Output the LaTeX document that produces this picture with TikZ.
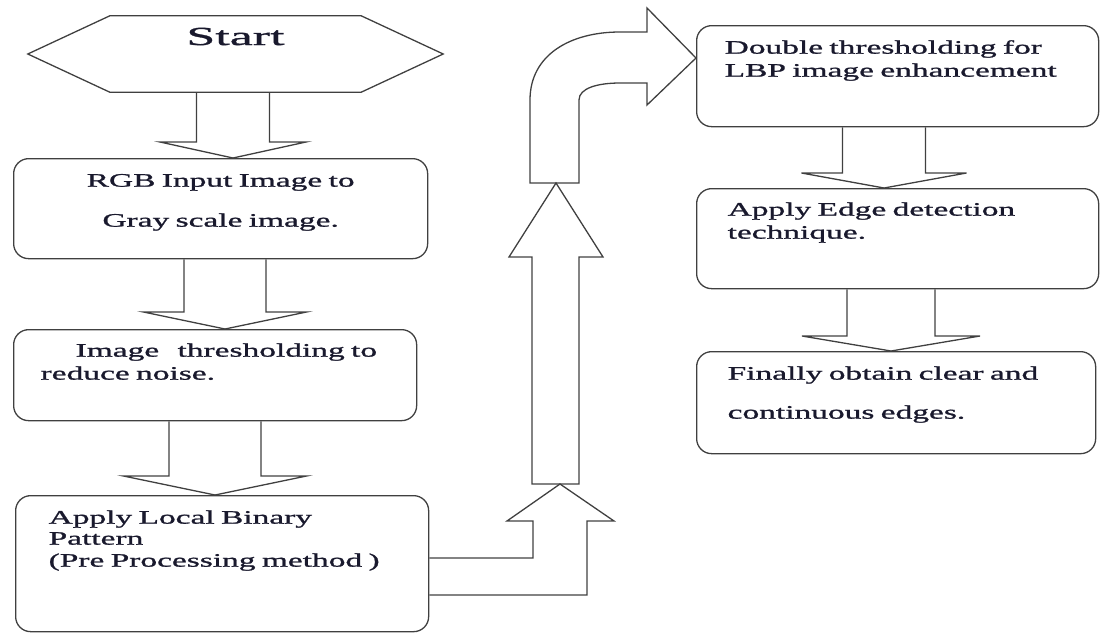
\documentclass[tikz,border=0pt]{standalone}
\usepackage{fontspec}
\setmainfont[FakeStretch=1.76,FakeBold=1.2]{Liberation Serif}
\newfontfamily\startfont[FakeStretch=2.0,FakeBold=1.2]{Liberation Serif}
\usetikzlibrary{calc}

\definecolor{linegray}{RGB}{64,64,64}
\definecolor{textnavy}{RGB}{25,25,45}

\tikzset{
  stepbox/.style={draw=linegray, line width=1.3pt, rounded corners=15pt, anchor=north west,
    inner ysep=0pt, align=left, text=textnavy, font=\fontsize{19}{23}\selectfont},
  startbox/.style={minimum width=415pt, minimum height=76pt, inner sep=0pt, text=textnavy,
    font=\startfont\fontsize{26}{30}\selectfont},
  blockarrow/.style={draw=linegray, line width=1.3pt, line join=miter},
}

% block arrow: from node, to node, centre x, shaft half width, head half width, head length
\newcommand{\downblock}[6]{%
  \draw[blockarrow] let \p1=(#3,0 |- #1.south), \p2=(#3,0 |- #2.north) in
    (\x1-#4pt,\y1) -- (\x1-#4pt,\y2+#6pt) -- (\x1-#5pt,\y2+#6pt) -- (\p2)
    -- (\x1+#5pt,\y2+#6pt) -- (\x1+#4pt,\y2+#6pt) -- (\x1+#4pt,\y1);}

\begin{document}
\begin{tikzpicture}[x=1pt,y=-1pt]
  \useasboundingbox (0,0) rectangle (1100,632);

  \node[startbox, text height=17pt, text depth=35pt] (start) at (235.5,54) {Start};
  \draw[blockarrow] (start.west) -- ($(start.north west)+(82,0)$) -- ($(start.north east)+(-82,0)$)
    -- (start.east) -- ($(start.south east)+(-82,0)$) -- ($(start.south west)+(82,0)$) -- cycle;

  \node[stepbox, inner xsep=0pt, text width=414pt, align=center, text height=28pt, text depth=72pt] (gray) at (13,158)
    {RGB Input Image to\\[17pt]Gray scale image.};
  \node[stepbox, inner xsep=27pt, text width=349pt, text height=27pt, text depth=64pt] (thresh) at (13,329)
    {\hspace*{35pt}Image\hspace{12pt} thresholding to\\reduce noise.};
  \node[stepbox, inner xsep=33pt, text width=347pt, text height=28pt, text depth=108pt] (lbp) at (15,495)
    {Apply Local Binary\\[-2pt]Pattern\\[-1pt](Pre Processing method )};

  \node[stepbox, inner xsep=28pt, text width=346pt, text height=28pt, text depth=73pt] (dbl) at (696,25)
    {Double thresholding for\\LBP image enhancement};
  \node[stepbox, inner xsep=31pt, text width=340pt, text height=27pt, text depth=73pt] (edge) at (696,188)
    {Apply Edge detection\\technique.};
  \node[stepbox, inner xsep=31pt, text width=337pt, text height=28pt, text depth=74pt] (final) at (696,351)
    {Finally obtain clear and\\[16pt]continuous edges.};

  \downblock{start}{gray}{233}{36.5}{73}{16}
  \downblock{gray}{thresh}{225}{41}{81.5}{17}
  \downblock{thresh}{lbp}{215}{46}{91.5}{19}
  \downblock{dbl}{edge}{884}{41.5}{82.5}{15}
  \downblock{edge}{final}{891}{44}{89}{15}

  \draw[blockarrow] (lbp.east |- 0,558) -- (533,558) -- (533,521) -- (507,521) -- (560,484)
    -- (614,521) -- (587,521) -- (587,595) -- (lbp.east |- 0,595);
  \draw[blockarrow] (532,484) -- (579,484) -- (579,257) -- (603,257) -- (556,183)
    -- (509,257) -- (532,257) -- cycle;
  \draw[blockarrow] (530,183) -- (579,183) -- (579,100) .. controls (579,88) and (598,83) .. (620,83)
    -- (647,83) -- (647,105) -- ($(dbl.north west)+(0,33)$) -- (647,8) -- (647,32) -- (620,32)
    .. controls (570,32) and (530,55) .. (530,100) -- cycle;
\end{tikzpicture}
\end{document}
